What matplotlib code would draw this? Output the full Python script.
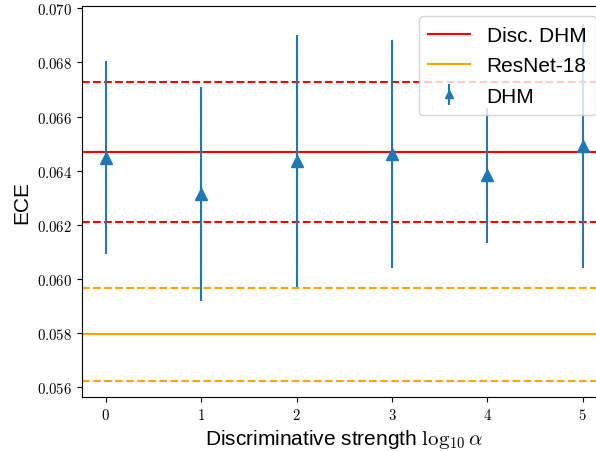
import matplotlib
matplotlib.use("Agg")
import matplotlib.pyplot as plt
from matplotlib.ticker import FuncFormatter

plt.rcParams['mathtext.fontset'] = 'cm'
plt.rcParams['font.family'] = ['Liberation Sans', 'DejaVu Sans']

# log10 alpha values
log_alpha = [0, 1, 2, 3, 4, 5]
dhm_mean = [0.06448, 0.06314, 0.06434, 0.06461, 0.06382, 0.06491]
dhm_err = [0.00357, 0.00395, 0.00466, 0.00422, 0.00250, 0.00451]

disc_mean = 0.06468
disc_std = 0.00258
resnet_mean = 0.05795
resnet_std = 0.00172

fig = plt.figure(figsize=(5.96, 4.52), dpi=100)
# axes run slightly past the right edge, as in the cropped original
ax = fig.add_axes([0.1376, 0.1195, 0.880, 0.865])

ax.axhline(disc_mean, color="red", linewidth=1.5, label="Disc. DHM")
ax.axhline(disc_mean + disc_std, color="red", linewidth=1.5, linestyle="--")
ax.axhline(disc_mean - disc_std, color="red", linewidth=1.5, linestyle="--")

ax.axhline(resnet_mean, color="orange", linewidth=1.5, label="ResNet-18")
ax.axhline(resnet_mean + resnet_std, color="orange", linewidth=1.5, linestyle="--")
ax.axhline(resnet_mean - resnet_std, color="orange", linewidth=1.5, linestyle="--")

ax.errorbar(log_alpha, dhm_mean, yerr=dhm_err, fmt="^", color="tab:blue",
            markersize=8, elinewidth=1.5, label="DHM")

ax.set_xlim(-0.25, 5.25)
ax.set_ylim(0.05562, 0.07009)
ax.set_yticks([0.056, 0.058, 0.060, 0.062, 0.064, 0.066, 0.068, 0.070])
ax.yaxis.set_major_formatter(FuncFormatter(lambda v, p: r"$%.3f$" % v))
ax.xaxis.set_major_formatter(FuncFormatter(lambda v, p: r"$%d$" % v))
ax.tick_params(labelsize=10.7)

ax.set_xlabel(r"Discriminative strength $\log_{10}\alpha$", fontsize=15)
ax.set_ylabel("ECE", fontsize=15)

ax.legend(loc="upper right", fontsize=15, markerscale=0.8,
          labelspacing=0.55, borderpad=0.45)

fig.savefig("out.png")
